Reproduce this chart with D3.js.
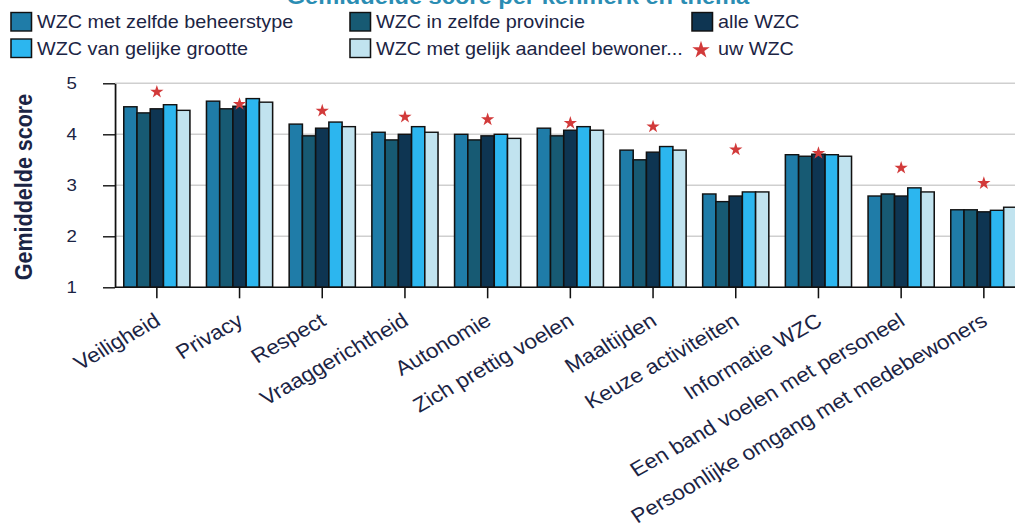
<!DOCTYPE html>
<html><head><meta charset="utf-8">
<script src="https://cdn.jsdelivr.net/npm/d3@7"></script>
<style>html,body{margin:0;padding:0;background:#fff;overflow:hidden}</style>
</head><body>
<svg id="chart"></svg>
<script>
// ---------- data ----------
const categories = ["Veiligheid","Privacy","Respect","Vraaggerichtheid","Autonomie","Zich prettig voelen","Maaltijden","Keuze activiteiten","Informatie WZC","Een band voelen met personeel","Persoonlijke omgang met medebewoners"];
const seriesNames = ["WZC met zelfde beheerstype","WZC in zelfde provincie","alle WZC","WZC van gelijke grootte","WZC met gelijk aandeel bewoner..."];
const beheerstype = [4.54,4.65,4.20,4.04,4.00,4.12,3.69,2.83,3.60,2.79,2.52];
const provincie   = [4.42,4.50,3.97,3.89,3.89,3.97,3.50,2.68,3.57,2.83,2.52];
const alleWZC     = [4.50,4.55,4.12,4.00,3.97,4.08,3.65,2.79,3.61,2.79,2.48];
const grootte     = [4.58,4.70,4.24,4.15,4.00,4.15,3.76,2.87,3.60,2.95,2.51];
const aandeel     = [4.47,4.63,4.15,4.04,3.92,4.08,3.69,2.87,3.57,2.87,2.57];
const uwWZC       = [4.85,4.61,4.48,4.36,4.31,4.24,4.17,3.72,3.65,3.36,3.06];
const yTicks = [1,2,3,4,5];
const titleText = "Gemiddelde score per kenmerk en thema";
const yLabelText = "Gemiddelde score";
const starLabel = "uw WZC";

// ---------- styling ----------
const colors = ["#1f7ca8","#175a73","#0e3552","#2cb6ef","#c1e3ef"];
const starColor = "#d23a3a";
const textColor = "#1b2444";
const font = "'Liberation Sans', Arial, sans-serif";

const W = 1015, H = 529, SX = 1.1;
const VW = W / SX;
const vx = v => v / SX;

const values = [beheerstype, provincie, alleWZC, grootte, aandeel];
const rows = categories.map((c, i) => ({cat: c, vals: seriesNames.map((s, k) => ({s, k, v: values[k][i]})), star: uwWZC[i]}));

const svg = d3.select("#chart")
  .attr("width", W).attr("height", H)
  .attr("viewBox", `0 0 ${VW} ${H}`)
  .attr("preserveAspectRatio", "none")
  .style("display", "block");

const x0 = d3.scaleBand().domain(categories)
  .range([vx(115.5), vx(115.5) + 11 * vx(82.7)])
  .paddingInner(0.2).paddingOuter(0.1);
const x1 = d3.scaleBand().domain(seriesNames).range([0, x0.bandwidth()]);
const y = d3.scaleLinear().domain([1, 5]).range([287.3, 83.3]);

// title (clipped at top, as in the reference)
svg.append("text").attr("x", vx(518)).attr("y", 4)
  .attr("text-anchor", "middle").attr("font-family", font)
  .attr("font-weight", "bold").attr("font-size", 21.5)
  .attr("fill", "#2b8db3").text(titleText);

// gridlines
svg.append("g").selectAll("line").data(yTicks.filter(t => t > 1)).join("line")
  .attr("x1", vx(115)).attr("x2", VW)
  .attr("y1", d => y(d)).attr("y2", d => y(d))
  .attr("stroke", "#cfcfcf").attr("stroke-width", 1.6);

// bars
const groups = svg.append("g").selectAll("g").data(rows).join("g")
  .attr("transform", d => `translate(${x0(d.cat)},0)`);
groups.selectAll("rect").data(d => d.vals).join("rect")
  .attr("x", d => x1(d.s)).attr("width", x1.bandwidth())
  .attr("y", d => y(d.v)).attr("height", d => y(1) - y(d.v))
  .attr("fill", d => colors[d.k])
  .attr("stroke", "#111").attr("stroke-width", 1.4);

// stars
const starPath = d3.symbol(d3.symbolStar, 55)();
svg.append("g").selectAll("path").data(rows).join("path")
  .attr("d", starPath)
  .attr("transform", d => `translate(${x0(d.cat) + x0.bandwidth() / 2},${y(d.star) + 1}) scale(${1 / SX},1)`)
  .attr("fill", starColor);

// y axis
const yAxis = svg.append("g").attr("transform", `translate(${vx(115)},0)`)
  .call(d3.axisLeft(y).tickValues(yTicks).tickFormat(d3.format("d"))
    .tickSize(vx(12)).tickSizeOuter(0).tickPadding(vx(26)));
yAxis.select(".domain").attr("stroke", "#111").attr("stroke-width", 1.6);
yAxis.selectAll(".tick line").attr("stroke", "#111").attr("stroke-width", 1.4);
yAxis.selectAll("text").attr("font-family", font).attr("font-size", 17)
  .attr("fill", textColor);

// x axis
const xAxis = svg.append("g").attr("transform", `translate(0,${y(1)})`)
  .call(d3.axisBottom(x0).tickSize(11).tickSizeOuter(0));
xAxis.select(".domain").attr("stroke", "#111").attr("stroke-width", 1.6)
  .attr("d", `M${vx(115)},0H${VW}`);
xAxis.selectAll(".tick line").attr("stroke", "#111").attr("stroke-width", 1.4);
xAxis.selectAll("text")
  .attr("x", 0).attr("y", 0).attr("dy", 0)
  .attr("text-anchor", "end")
  .attr("transform", `translate(${vx(5)},37) rotate(-32)`)
  .attr("font-family", font).attr("font-size", 20.5)
  .attr("fill", textColor);

// y label
svg.append("text")
  .attr("transform", `translate(${vx(32)},187) rotate(-90)`)
  .attr("text-anchor", "middle").attr("font-family", font)
  .attr("font-weight", "bold").attr("font-size", 21.5)
  .attr("fill", textColor).text(yLabelText);

// legend
const legendItems = [
  {type: "rect", k: 0, x: 11, row: 0},
  {type: "rect", k: 1, x: 350, row: 0},
  {type: "rect", k: 2, x: 692, row: 0},
  {type: "rect", k: 3, x: 11, row: 1},
  {type: "rect", k: 4, x: 350, row: 1},
  {type: "star", x: 692, row: 1}
];
const rowTop = [12.5, 39], rowBase = [28.5, 55];
const lg = svg.append("g");
legendItems.forEach(it => {
  if (it.type === "rect") {
    lg.append("rect").attr("x", vx(it.x)).attr("y", rowTop[it.row])
      .attr("width", vx(20.5)).attr("height", 18.5)
      .attr("fill", colors[it.k]).attr("stroke", "#111").attr("stroke-width", 1.4);
  } else {
    lg.append("path").attr("d", d3.symbol(d3.symbolStar, 95)())
      .attr("transform", `translate(${vx(it.x + 9)},${rowTop[it.row] + 11}) scale(${1 / SX},1)`)
      .attr("fill", starColor);
  }
  lg.append("text").attr("x", vx(it.x + 26)).attr("y", rowBase[it.row])
    .attr("font-family", font).attr("font-size", 18).attr("fill", textColor)
    .text(it.type === "rect" ? seriesNames[it.k] : starLabel);
});
</script>
</body></html>
